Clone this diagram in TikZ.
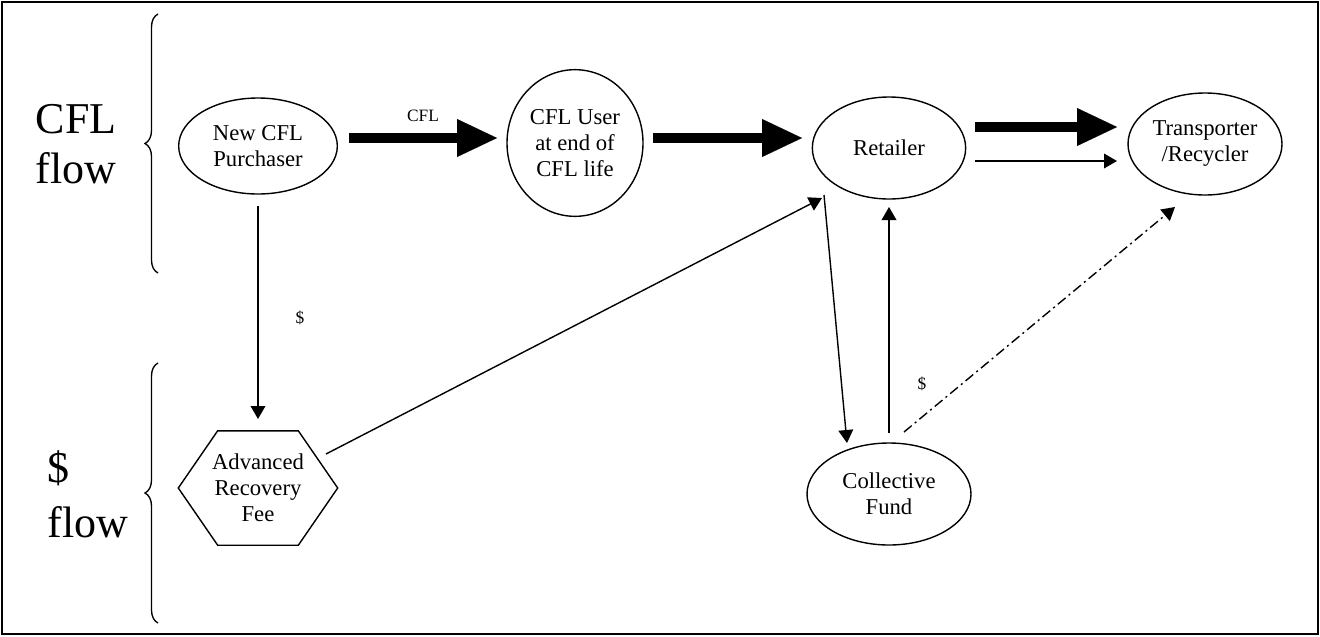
\documentclass[tikz,border=0pt]{standalone}
\usepackage{fontspec}
\setmainfont{Liberation Serif}
\usetikzlibrary{arrows.meta,calc,shapes.geometric,decorations.pathreplacing}

\begin{document}
\begin{tikzpicture}[
    x=0.75pt, y=-0.75pt,
    line width=1.05pt,
    every node/.style={font=\fontsize{17}{19.5}\selectfont},
    oval/.style={ellipse, draw=black, inner sep=0pt, align=center},
    hexbox/.style={rectangle, inner sep=0pt, minimum width=118.5pt,
                   minimum height=84.75pt, align=center},
    sidelabel/.style={align=left, anchor=west, inner sep=0pt},
    lbl/.style={font=\fontsize{13}{15}\selectfont, inner sep=0pt},
    arr/.style={-{Triangle[length=9.75pt,width=11pt]}, line width=1.05pt},
    fatarr/.style={-{Triangle[length=30pt,width=28.5pt,line width=0.1pt]}, line width=7.5pt},
    dasharr/.style={arr, dash pattern=on 7.5pt off 3pt on 1.5pt off 3pt},
    grp/.style={decorate, decoration={brace, amplitude=9.75pt}, line width=1pt},
]

\useasboundingbox (0,0) rectangle (1320,636);
\draw[line width=1.2pt] (2,2) rectangle (1318,634);

\node[sidelabel, font=\fontsize{33}{37.5}\selectfont] (cflside) at (35,144) {CFL\\flow};
\node[sidelabel, font=\fontsize{33}{41}\selectfont] (moneyside) at (47,494) {\$\\flow};

\draw[grp] (158,273) -- (158,14);
\draw[grp] (158,623) -- (158,363);

\node[oval, minimum width=119pt, minimum height=72pt]    (purch)  at (258,146)  {New CFL\\Purchaser};
\node[oval, minimum width=102pt, minimum height=110pt]   (user)   at (575,143)  {CFL User\\at end of\\CFL life};
\node[oval, minimum width=115pt, minimum height=76.5pt]  (retail) at (889,148)  {Retailer};
\node[oval, minimum width=115.5pt, minimum height=76.5pt] (trans) at (1205,144) {Transporter\\/Recycler};
\node[oval, minimum width=123pt, minimum height=76.5pt]  (fund)   at (889,494)  {Collective\\Fund};
\node[hexbox] (arf) at (258,488) {Advanced\\Recovery\\Fee};
\draw (arf.west) -- ($(arf.north west)!0.247!(arf.north east)$)
      -- ($(arf.north west)!0.753!(arf.north east)$) -- (arf.east)
      -- ($(arf.south west)!0.753!(arf.south east)$)
      -- ($(arf.south west)!0.247!(arf.south east)$) -- cycle;

\draw[fatarr] ($(purch)+(91,-8)$) -- node[lbl, yshift=16.5pt] (cfllbl) {CFL} ($(user)+(-78,-5)$);
\draw[fatarr] ($(user)+(78,-5)$)   -- ($(retail)+(-87,-10)$);
\draw[fatarr] ($(retail)+(86,-21)$) -- ($(trans)+(-88,-17)$);
\draw[arr]    ($(retail)+(86,13)$)  -- ($(trans)+(-88,17)$);
\draw[arr]    ($(purch)+(0,60)$) -- node[lbl, xshift=31.5pt, yshift=-3.75pt] (paylbl) {\$} ($(arf)+(0,-69)$);
\draw[arr]    ($(arf)+(68,-34)$)    -- ($(retail)+(-67,50)$);
\draw[arr]    ($(retail)+(-65,47)$) -- ($(fund)+(-42,-51)$);
\draw[arr]    ($(fund)+(0,-61)$) -- node[lbl, pos=0.217, xshift=24.75pt] (fundlbl) {\$} ($(retail)+(0,59)$);
\draw[dasharr] ($(fund)+(15,-62)$)  -- ($(trans)+(-30,63)$);

\end{tikzpicture}
\end{document}
